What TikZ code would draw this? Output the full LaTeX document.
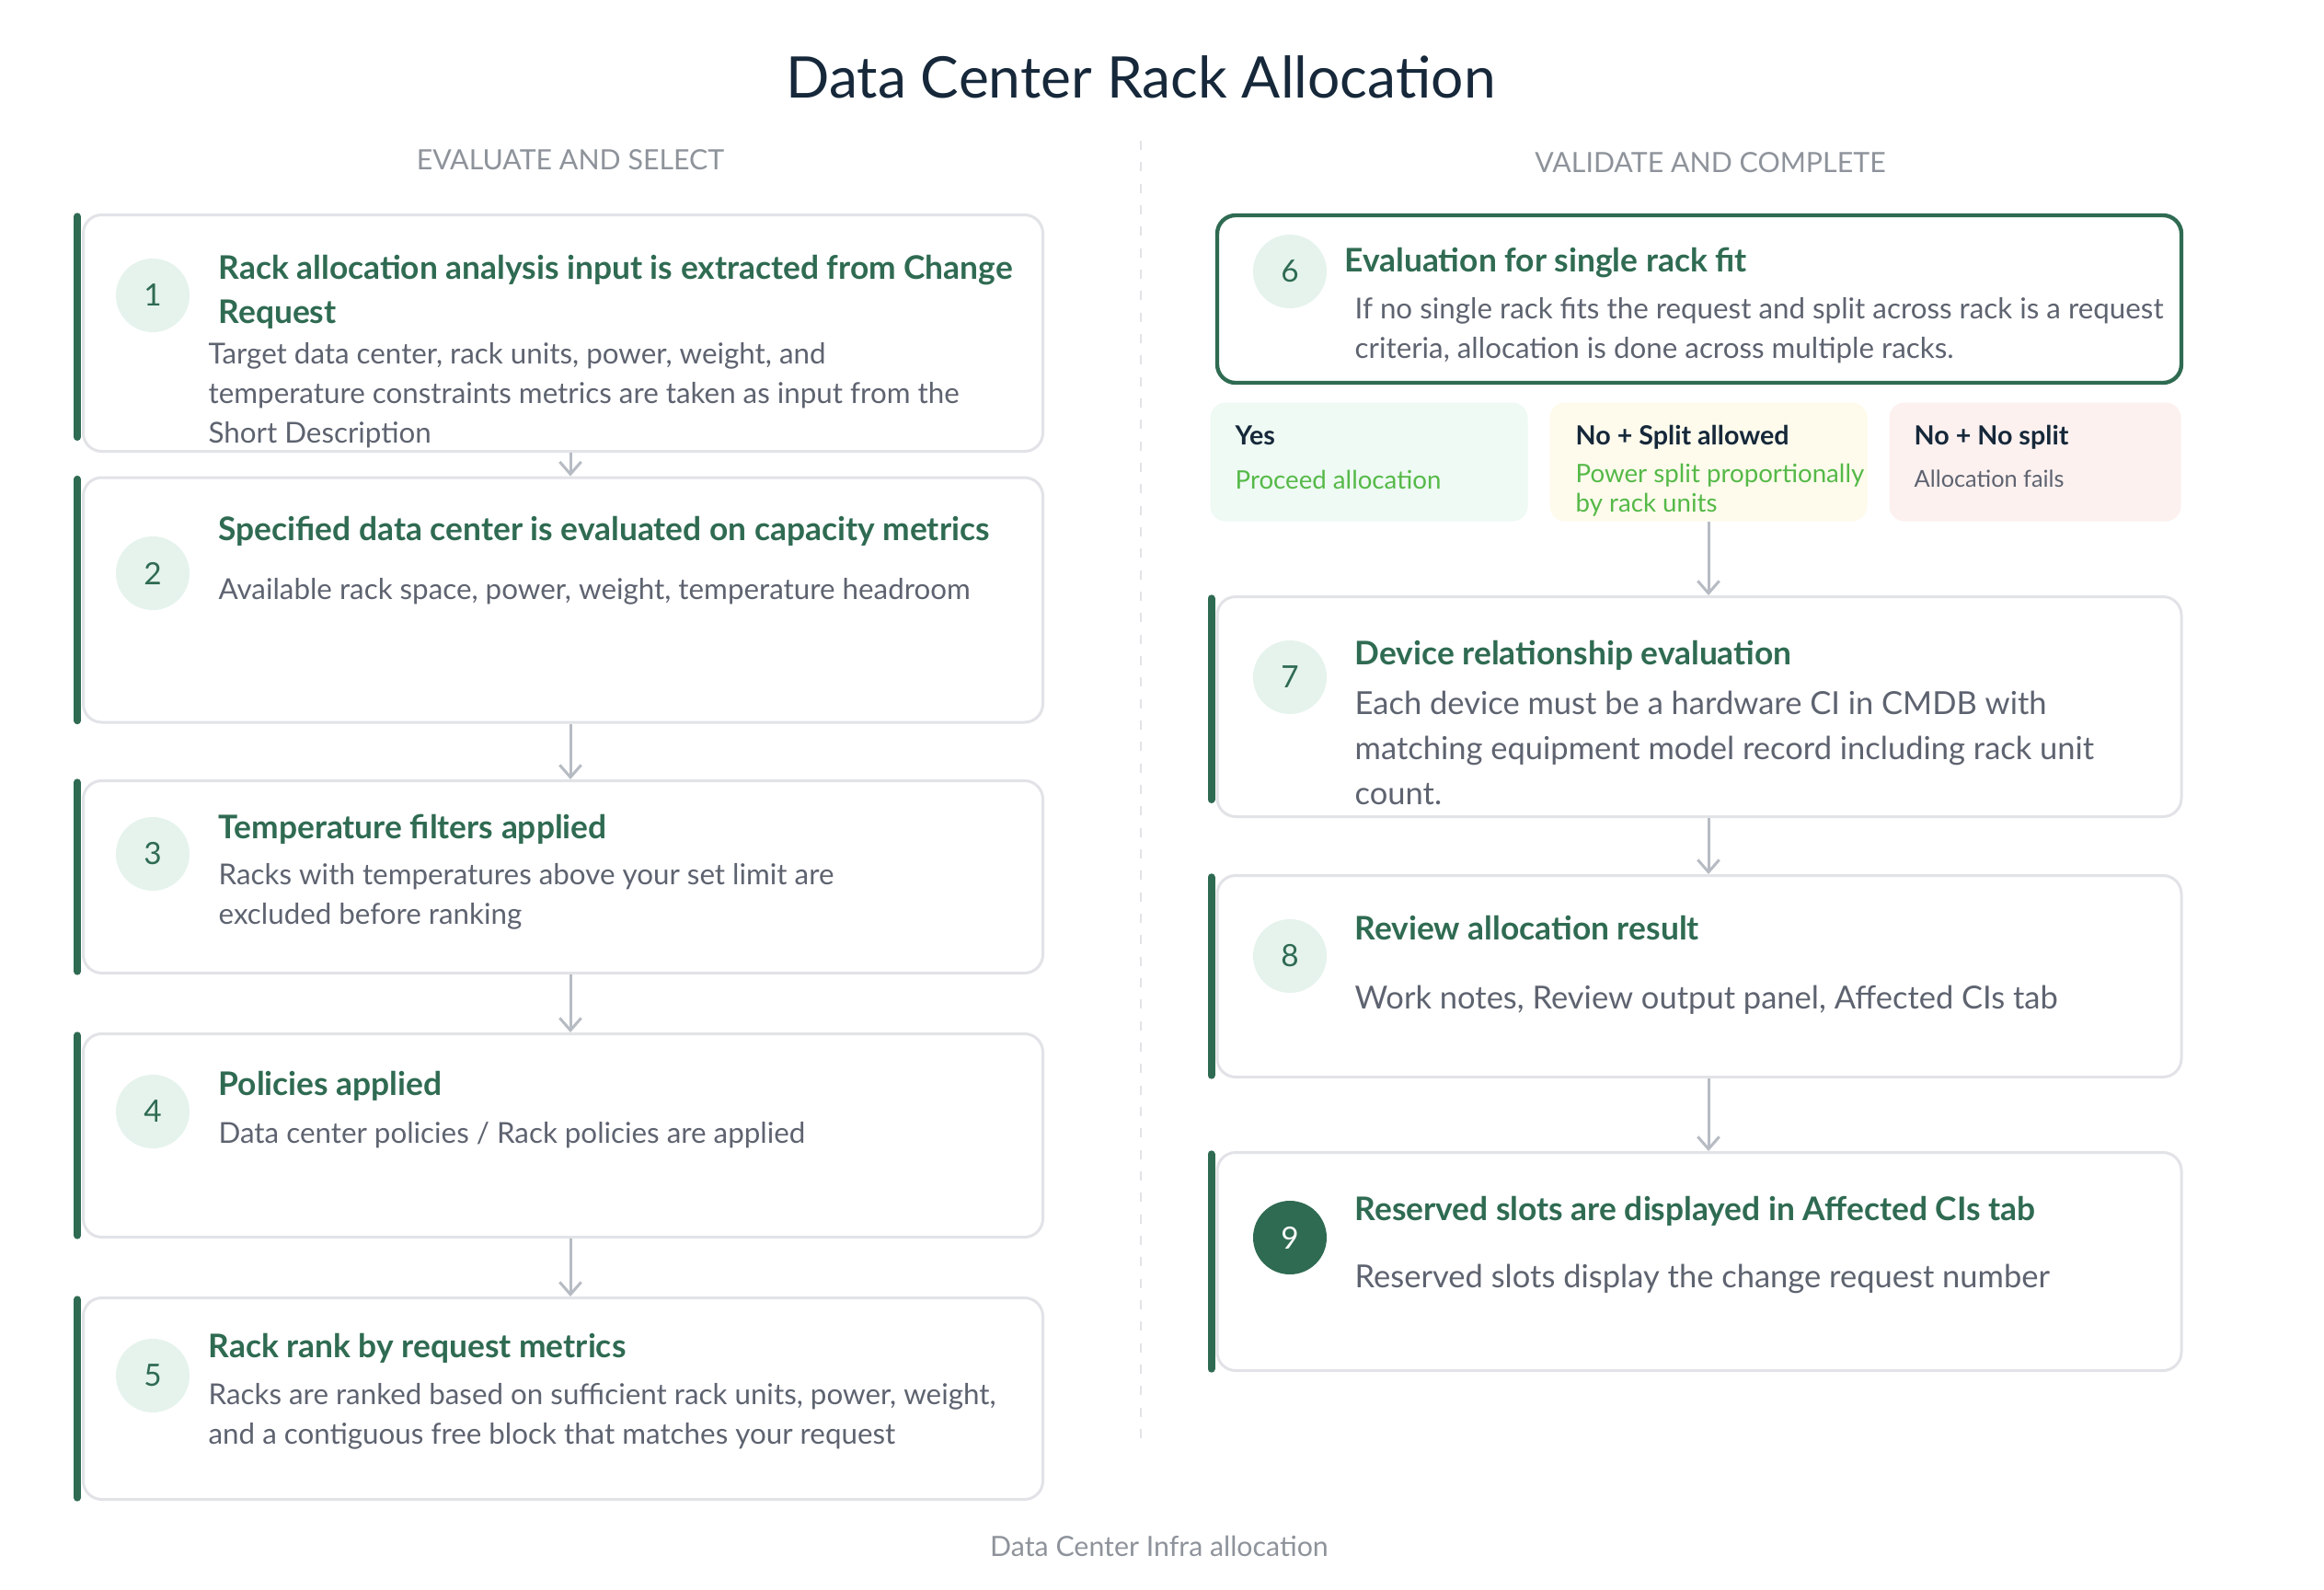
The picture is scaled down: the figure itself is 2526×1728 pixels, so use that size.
\documentclass[tikz,border=0pt]{standalone}
\usepackage{fontspec}
\setmainfont{Lato}
\usetikzlibrary{arrows.meta}

\definecolor{dcgreen}{HTML}{2F6B52}
\definecolor{dcmint}{HTML}{E5F3EC}
\definecolor{dcedge}{HTML}{E1E3E7}
\definecolor{dcbody}{HTML}{5E6370}
\definecolor{dcnavy}{HTML}{16283A}
\definecolor{dcmuted}{HTML}{8E939B}
\definecolor{dcarrow}{HTML}{B7BBC3}
\definecolor{yesfill}{HTML}{EEFAF3}
\definecolor{splitfill}{HTML}{FEFBEC}
\definecolor{nofill}{HTML}{FCF1EF}
\definecolor{okgreen}{HTML}{55B948}

\def\px{0.3pt}   % one pixel of the layout

\tikzset{
  card/.style={draw=dcedge, line width=0.9pt, fill=white, rounded corners=6pt, inner sep=0pt},
  pick/.style={draw=dcgreen, line width=1.3pt, fill=white, rounded corners=6pt, inner sep=0pt},
  choice/.style={rounded corners=5pt, inner sep=0pt, minimum height=129*\px},
  accent/.style={line width=2.4pt, dcgreen, line cap=round},
  badge/.style={circle, fill=dcmint, text=dcgreen, minimum size=24pt, inner sep=0pt,
    font=\fontsize{10}{10}\selectfont},
  badgedone/.style={badge, fill=dcgreen, text=white},
  head/.style={anchor=west, align=left, inner sep=0pt, text=dcgreen,
    font=\fontsize{10.6}{14.4}\selectfont\bfseries},
  body/.style={anchor=west, align=left, inner sep=0pt, text=dcbody,
    font=\fontsize{9.4}{12.9}\selectfont},
  bodybig/.style={body, font=\fontsize{10.35}{14.6}\selectfont},
  section/.style={text=dcmuted, font=\fontsize{9.1}{9.1}\selectfont},
  optname/.style={anchor=west, inner sep=0pt, text=dcnavy, font=\fontsize{8.6}{9}\selectfont\bfseries},
  opttext/.style={anchor=west, align=left, inner sep=0pt, text=okgreen, font=\fontsize{8.3}{9.6}\selectfont},
  flow/.style={dcarrow, line width=0.9pt, -{Straight Barb[length=4pt, width=7pt]}},
}

\begin{document}
\begin{tikzpicture}[x=0.3pt, y=-0.3pt]

  \fill[white] (0,0) rectangle (2526,1728);
  \useasboundingbox (0,0) rectangle (2526,1728);

  % titles
  \node[text=dcnavy, font=\fontsize{18.7}{18.7}\selectfont] (title) at (1240,84) {Data Center Rack Allocation};
  \node[section] (left) at (620,174) {EVALUATE AND SELECT};
  \node[section] (right) at (1859,177) {VALIDATE AND COMPLETE};
  \node[section] (foot) at (1260,1680) {Data Center Infra allocation};

  % divider
  \draw[dcedge, line width=0.8pt, dash pattern=on 3pt off 4pt] (1240,153) -- (1240,1563);

  % left column cards
  \node[card, minimum width=1043*\px, minimum height=257*\px] (c1) at (612,362) {};
  \node[card, minimum width=1043*\px, minimum height=266*\px] (c2) at (612,652) {};
  \node[card, minimum width=1043*\px, minimum height=209*\px] (c3) at (612,953) {};
  \node[card, minimum width=1043*\px, minimum height=221*\px] (c4) at (612,1234) {};
  \node[card, minimum width=1043*\px, minimum height=219*\px] (c5) at (612,1520) {};

  % right column cards
  \node[pick, minimum width=1048*\px, minimum height=182*\px] (c6) at (1847,325) {};
  \node[card, minimum width=1048*\px, minimum height=239*\px] (c7) at (1847,768) {};
  \node[card, minimum width=1048*\px, minimum height=219*\px] (c8) at (1847,1061) {};
  \node[card, minimum width=1048*\px, minimum height=237*\px] (c9) at (1847,1371) {};

  % accent bars (1 and 7 stop short of the card edge)
  \foreach \c in {c2,c3,c4,c5,c8,c9}
    \draw[accent] ([xshift=-1.5pt, yshift=-1pt]\c.north west) -- ([xshift=-1.5pt, yshift=1pt]\c.south west);
  \draw[accent] ([xshift=-1.5pt, yshift=-1pt]c1.north west) -- ([xshift=-1.5pt, yshift=17*\px]c1.south west);
  \draw[accent] ([xshift=-1.5pt, yshift=-1pt]c7.north west) -- ([xshift=-1.5pt, yshift=20*\px]c7.south west);

  % decision outcomes
  \node[choice, fill=yesfill, minimum width=345*\px] (yes) at (1488,502) {};
  \node[choice, fill=splitfill, minimum width=345*\px] (split) at (1857,502) {};
  \node[choice, fill=nofill, minimum width=317*\px] (nosplit) at (2212,502) {};

  % step badges
  \node[badge] (b1) at (166,321) {1};
  \node[badge] (b2) at (166,623) {2};
  \node[badge] (b3) at (166,928) {3};
  \node[badge] (b4) at (166,1208) {4};
  \node[badge] (b5) at (166,1495) {5};
  \node[badge] (b6) at (1402,295) {6};
  \node[badge] (b7) at (1402,736) {7};
  \node[badge] (b8) at (1402,1039) {8};
  \node[badgedone] (b9) at (1402,1345) {9};

  % card texts, left
  \node[head] (h1) at (237,317) {Rack allocation analysis input is extracted from Change\\Request};
  \node[body] (t1) at (226,430) {Target data center, rack units, power, weight, and\\temperature constraints metrics are taken as input from the\\Short Description};
  \node[head] (h2) at (237,577) {Specified data center is evaluated on capacity metrics};
  \node[body] (t2) at (237,643) {Available rack space, power, weight, temperature headroom};
  \node[head] (h3) at (237,901) {Temperature filters applied};
  \node[body] (t3) at (237,974) {Racks with temperatures above your set limit are\\excluded before ranking};
  \node[head] (h4) at (237,1180) {Policies applied};
  \node[body] (t4) at (237,1234) {Data center policies / Rack policies are applied};
  \node[head] (h5) at (226,1465) {Rack rank by request metrics};
  \node[body] (t5) at (226,1539) {Racks are ranked based on sufficient rack units, power, weight,\\and a contiguous free block that matches your request};

  % card texts, right
  \node[head] (h6) at (1461,286) {Evaluation for single rack fit};
  \node[body] (t6) at (1472,359) {If no single rack fits the request and split across rack is a request\\criteria, allocation is done across multiple racks.};
  \node[head] (h7) at (1472,712) {Device relationship evaluation};
  \node[bodybig] (t7) at (1472,813) {Each device must be a hardware CI in CMDB with\\matching equipment model record including rack unit\\count.};
  \node[head] (h8) at (1472,1008) {Review allocation result};
  \node[bodybig] (t8) at (1472,1087) {Work notes, Review output panel, Affected CIs tab};
  \node[head] (h9) at (1472,1316) {Reserved slots are displayed in Affected CIs tab};
  \node[bodybig] (t9) at (1472,1390) {Reserved slots display the change request number};

  % outcome texts
  \node[optname] (n1) at (1342,473) {Yes};
  \node[opttext] (o1) at (1342,521) {Proceed allocation};
  \node[optname] (n2) at (1712,475) {No + Split allowed};
  \node[opttext] (o2) at (1712,533) {Power split proportionally\\by rack units};
  \node[optname] (n3) at (2080,475) {No + No split};
  \node[opttext, text=dcbody, font=\fontsize{7.6}{8}\selectfont] (o3) at (2080,520) {Allocation fails};

  % flow
  \coordinate (laxis) at (620,0);
  \draw[flow] (c1.south -| laxis) -- (c2.north -| laxis);
  \draw[flow] (c2.south -| laxis) -- (c3.north -| laxis);
  \draw[flow] (c3.south -| laxis) -- (c4.north -| laxis);
  \draw[flow] (c4.south -| laxis) -- (c5.north -| laxis);
  \draw[flow] (split.south) -- (c7.north -| split);
  \draw[flow] (c7.south -| split) -- (c8.north -| split);
  \draw[flow] (c8.south -| split) -- (c9.north -| split);

\end{tikzpicture}
\end{document}
